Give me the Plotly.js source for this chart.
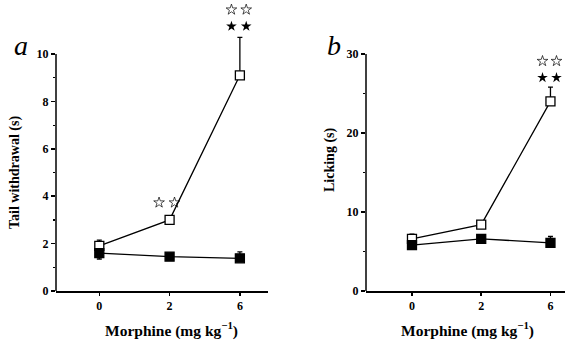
<!DOCTYPE html>
<html><head><meta charset="utf-8">
<script src="https://cdn.plot.ly/plotly-3.0.1.min.js"></script>
<style>html,body{margin:0;padding:0;background:#fff}#chart{width:565px;height:341px}</style>
</head><body><div id="chart"></div>
<script>
// Categories (morphine dose, mg/kg) – plotted at equal spacing
const doses = ["0", "2", "6"];
const dosePos = [0, 1, 2];

// Panel a: tail withdrawal (s)
const aOpen = [1.9, 3.0, 9.1];
const aOpenErrUp = [0.25, 0.1, 1.6];
const aOpenErrDown = [0, 0, 0];
const aFilled = [1.6, 1.45, 1.38];
const aFilledErrUp = [0, 0.05, 0.27];
const aFilledErrDown = [0.25, 0.05, 0];
const aTicks = [0, 2, 4, 6, 8, 10];
const aMinor = [1, 3, 5, 7, 9];

// Panel b: licking (s)
const bOpen = [6.6, 8.4, 24.0];
const bOpenErrUp = [0.6, 0.3, 1.8];
const bOpenErrDown = [0, 0, 0];
const bFilled = [5.8, 6.6, 6.1];
const bFilledErrUp = [0, 0.3, 0.8];
const bFilledErrDown = [0.4, 0, 0];
const bTicks = [0, 10, 20, 30];
const bMinor = [5, 15, 25];

// Significance stars (position index, value)
const aStarOpenX = [0.85, 1.07, 1.88, 2.09];
const aStarOpenY = [3.73, 3.73, 11.87, 11.87];
const aStarFilledX = [1.88, 2.09];
const aStarFilledY = [11.17, 11.17];
const bStarOpenX = [1.885, 2.087];
const bStarOpenY = [29.1, 29.1];
const bStarFilledX = [1.885, 2.087];
const bStarFilledY = [27.0, 27.0];

const serif = "Liberation Serif, Times New Roman, serif";
const lineC = "black";

function series(x, y, up, down, open, xa, ya) {
  return {
    x: x, y: y, xaxis: xa, yaxis: ya, type: "scatter", mode: "lines+markers",
    cliponaxis: false, showlegend: false,
    line: {color: lineC, width: 1.3},
    marker: {symbol: "square", size: 9, color: open ? "white" : "black",
             line: {color: "black", width: 1.3}},
    error_y: {type: "data", symmetric: false, array: up, arrayminus: down,
              color: "black", thickness: 1.3, width: 2.5}
  };
}
function stars(x, y, open, xa, ya) {
  return {
    x: x, y: y, xaxis: xa, yaxis: ya, type: "scatter", mode: "markers",
    cliponaxis: false, showlegend: false,
    marker: {symbol: open ? "star-open" : "star", size: 8, color: "black",
             line: {color: "black", width: open ? 0.7 : 0}}
  };
}

const data = [
  series(dosePos, aOpen, aOpenErrUp, aOpenErrDown, true, "x", "y"),
  series(dosePos, aFilled, aFilledErrUp, aFilledErrDown, false, "x", "y"),
  series(dosePos, bOpen, bOpenErrUp, bOpenErrDown, true, "x2", "y2"),
  series(dosePos, bFilled, bFilledErrUp, bFilledErrDown, false, "x2", "y2"),
  stars(aStarOpenX, aStarOpenY, true, "x", "y"),
  stars(aStarFilledX, aStarFilledY, false, "x", "y"),
  stars(bStarOpenX, bStarOpenY, true, "x2", "y2"),
  stars(bStarFilledX, bStarFilledY, false, "x2", "y2")
];

const tickFont = {family: serif, size: 12, color: "black", weight: "bold"};
function xAxis(domain, range, anchor) {
  return {domain: domain, range: range, anchor: anchor, tickvals: dosePos, ticktext: doses,
          showline: true, linecolor: "black", linewidth: 1.5, ticks: "outside",
          ticklen: 3, tickwidth: 1.5, tickcolor: "black", showgrid: false,
          zeroline: false, tickfont: tickFont, fixedrange: true, ticklabelstandoff: 0};
}
function yAxis(anchor, domain, range, tickv, minorv) {
  return {anchor: anchor, domain: domain, range: range, tickmode: "array", tickvals: tickv,
          showline: false, ticks: "outside",
          ticklen: 4, tickwidth: 1.5, tickcolor: "black", showgrid: false,
          zeroline: false, tickfont: tickFont, ticklabelstandoff: 0,
          minor: {tickmode: "array", tickvals: minorv, ticks: "outside", ticklen: 2,
                  tickwidth: 1.2, tickcolor: "black", showgrid: false}};
}
const bottom = (341 - 291) / 341;
const pxA = (291 - 54) / 10;   // pixels per unit, panel a
const pxB = (291 - 54) / 30;   // pixels per unit, panel b
const aMax = 12.2, bMax = 30.6;
const ann = (text, x, y, font, angle) => ({text: text, xref: "paper", yref: "paper",
  x: x / 565, y: 1 - y / 341, xanchor: "center", yanchor: "middle", showarrow: false,
  textangle: angle || 0, font: font});
const titleFont = {family: serif, size: 14, color: "black", weight: "bold"};
const xtFont = {family: serif, size: 15.5, color: "black", weight: "bold"};
const letterFont = {family: serif, size: 28, color: "black", style: "italic"};

const layout = {
  width: 565, height: 341, margin: {l: 0, r: 0, t: 0, b: 0},
  paper_bgcolor: "white", plot_bgcolor: "white", showlegend: false,
  xaxis: xAxis([56 / 565, 268 / 565], [-0.616, 2.40], "y"),
  yaxis: yAxis("x", [bottom, bottom + aMax * pxA / 341], [0, aMax], aTicks, aMinor),
  xaxis2: xAxis([366 / 565, 1.0], [-0.664, 2.21], "y2"),
  yaxis2: yAxis("x2", [bottom, bottom + bMax * pxB / 341], [0, bMax], bTicks, bMinor),
  shapes: [
    {type: "line", xref: "x domain", yref: "y", x0: 0, x1: 0, y0: 0, y1: 10,
     line: {color: "black", width: 1.5}},
    {type: "line", xref: "x2 domain", yref: "y2", x0: 0, x1: 0, y0: 0, y1: 30,
     line: {color: "black", width: 1.5}}
  ],
  annotations: [
    ann("Tail withdrawal (s)", 15, 173, titleFont, -90),
    ann("Licking (s)", 330, 160, titleFont, -90),
    ann("Morphine (mg kg<sup>−1</sup>)", 171, 329, xtFont),
    ann("Morphine (mg kg<sup>−1</sup>)", 467, 329, xtFont),
    ann("a", 21, 45, letterFont),
    ann("b", 334, 45, letterFont)
  ]
};

Plotly.newPlot("chart", data, layout, {staticPlot: true, displayModeBar: false});
</script></body></html>
